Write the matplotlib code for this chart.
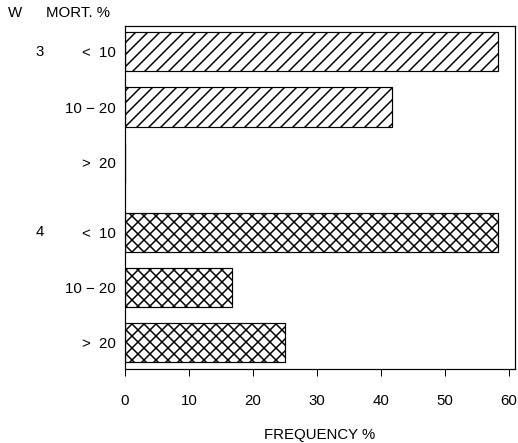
import matplotlib
matplotlib.use("Agg")
import matplotlib.pyplot as plt
from matplotlib.transforms import blended_transform_factory

plt.rcParams['font.family'] = ['Liberation Sans', 'DejaVu Sans']
plt.rcParams['hatch.linewidth'] = 1.5

# mortality classes per W group and their frequency (%)
w_groups = ["3", "4"]
mort_labels = ["<  10", "10 \u2212 20", ">  20"]
freq_w3 = [58.3, 41.7, 0.0]
freq_w4 = [58.3, 16.7, 25.0]

rows_w3 = [0, 1, 2]
rows_w4 = [3.27, 4.27, 5.27]

fs = 15

fig = plt.figure(figsize=(518 / 72, 443 / 72), dpi=72)
ax = fig.add_axes([125 / 518, 1 - 369 / 443, 390 / 518, 343 / 443])

ax.barh(rows_w3, freq_w3, height=0.71, color="white", edgecolor="black",
        linewidth=1.2, hatch="//")
ax.barh(rows_w4, freq_w4, height=0.71, color="white", edgecolor="black",
        linewidth=1.2, hatch="xx")

ax.set_xlim(0, 61)
ax.set_ylim(5.75, -0.47)
ax.set_xticks([0, 10, 20, 30, 40, 50, 60])
ax.tick_params(axis="x", direction="out", length=7, width=1, pad=18,
               labelsize=fs)
ax.set_yticks(rows_w3 + rows_w4)
ax.set_yticklabels(mort_labels * 2)
ax.tick_params(axis="y", length=0, pad=9, labelsize=fs)
for s in ax.spines.values():
    s.set_linewidth(1.2)
ax.set_xlabel("FREQUENCY %", fontsize=fs, labelpad=20)

# group labels on the left
tr = blended_transform_factory(fig.transFigure, ax.transData)
ax.text(40 / 518, rows_w3[0], w_groups[0], transform=tr, ha="center",
        va="center", fontsize=fs)
ax.text(40 / 518, rows_w4[0], w_groups[1], transform=tr, ha="center",
        va="center", fontsize=fs)

# column headers
fig.text(15 / 518, 1 - 13 / 443, "W", ha="center", va="center", fontsize=fs)
fig.text(78 / 518, 1 - 13 / 443, "MORT. %", ha="center", va="center",
         fontsize=fs)

fig.savefig("out.png", dpi=72)
